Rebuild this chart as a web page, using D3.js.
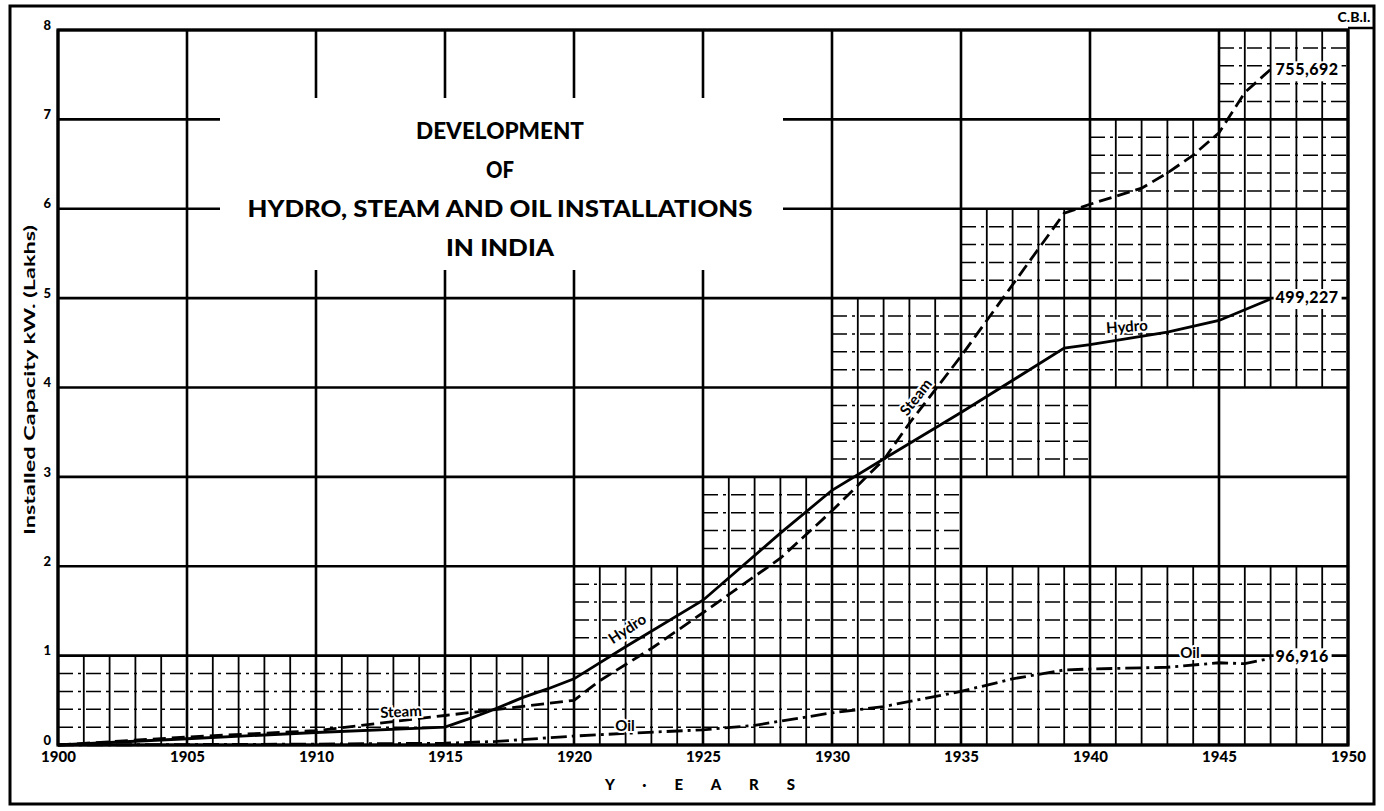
<!DOCTYPE html>
<html><head><meta charset="utf-8">
<script src="https://cdn.jsdelivr.net/npm/d3@7"></script>
<style>
html,body{margin:0;padding:0;background:#fff;}
svg{display:block;font-family:Lato,"DejaVu Sans",sans-serif;}
</style></head>
<body><svg id="c" width="1384" height="811"></svg>
<script>
// ---- data ----
const titleLines = ["DEVELOPMENT","OF","HYDRO, STEAM AND OIL INSTALLATIONS","IN INDIA"];
const xTicks = [1900,1905,1910,1915,1920,1925,1930,1935,1940,1945,1950];
const yTicks = [0,1,2,3,4,5,6,7,8];
const hydroYears  = [1900,1905,1910,1915,1916,1917,1918,1919,1920,1922,1925,1928,1930,1932,1935,1939,1940,1943,1945,1947];
const hydroValues = [0,0.07,0.14,0.2,0.3,0.41,0.53,0.63,0.74,1.1,1.62,2.37,2.85,3.2,3.72,4.44,4.48,4.62,4.75,4.99];
const steamYears  = [1900,1905,1910,1915,1920,1921,1923,1925,1928,1930,1932,1933,1935,1939,1940,1942,1943,1944,1945,1946,1947];
const steamValues = [0,0.09,0.16,0.33,0.5,0.72,1.08,1.48,2.09,2.62,3.19,3.6,4.35,5.95,6.05,6.23,6.4,6.6,6.85,7.3,7.56];
const oilYears  = [1900,1910,1915,1917,1920,1922,1925,1927,1930,1932,1935,1937,1939,1940,1943,1945,1946,1947];
const oilValues = [0,0.01,0.02,0.04,0.1,0.13,0.17,0.22,0.36,0.43,0.6,0.74,0.84,0.85,0.87,0.92,0.91,0.97];
const endLabels = ["755,692","499,227","96,916"];
// fine-ruled grid areas: [yearFrom, yearTo, lakhFrom, lakhTo]
const fineAreas = [[1900,1920,0,1],[1920,1925,0,2],[1925,1930,0,3],[1930,1935,0,5],
  [1935,1940,0,2],[1935,1940,3,6],[1940,1945,0,2],[1940,1945,4,7],[1945,1950,0,2],[1945,1950,4,8]];

const svg = d3.select("#c");
const x = d3.scaleLinear().domain([1900,1950]).range([58,1348]);
const y = d3.scaleLinear().domain([0,8]).range([745,30]);

// outer frame
svg.append("rect").attr("x",10).attr("y",6).attr("width",1364).attr("height",798)
  .attr("fill","none").attr("stroke","#000").attr("stroke-width",3);
svg.append("line").attr("x1",x(1950)).attr("x2",1374).attr("y1",28).attr("y2",28)
  .attr("stroke","#000").attr("stroke-width",2.5);
svg.append("text").attr("x",1354).attr("y",22).attr("text-anchor","middle")
  .attr("font-weight",900).attr("font-size",14).text("C.B.I.");

// fine grid
const fine = svg.append("g");
fineAreas.forEach(([a,b,lo,hi])=>{
  for(let yr=a+1; yr<b; yr++){
    if(yr%5===0) continue;
    fine.append("line").attr("x1",x(yr)).attr("x2",x(yr)).attr("y1",y(lo)).attr("y2",y(hi))
      .attr("stroke","#000").attr("stroke-width",1.8);
  }
  for(let k=Math.round(lo*5)+1; k<Math.round(hi*5); k++){
    if(k%5===0) continue;
    const v = k/5;
    fine.append("line").attr("x1",x(a)).attr("x2",x(b)).attr("y1",y(v)).attr("y2",y(v))
      .attr("stroke","#000").attr("stroke-width",1.5).attr("stroke-dasharray","15,5,3,5");
  }
});

// major grid
const major = svg.append("g");
xTicks.forEach(t=>{
  major.append("line").attr("x1",x(t)).attr("x2",x(t)).attr("y1",y(0)).attr("y2",y(8))
    .attr("stroke","#000").attr("stroke-width",2.6);
});
yTicks.forEach(t=>{
  major.append("line").attr("x1",x(1900)).attr("x2",x(1950)).attr("y1",y(t)).attr("y2",y(t))
    .attr("stroke","#000").attr("stroke-width",2.6);
});
svg.append("rect").attr("x",x(1900)).attr("y",y(8)).attr("width",x(1950)-x(1900)).attr("height",y(0)-y(8))
  .attr("fill","none").attr("stroke","#000").attr("stroke-width",3.2);

// title block (masks grid)
svg.append("rect").attr("x",220).attr("y",98).attr("width",563).attr("height",172).attr("fill","#fff");
const tY = [133,172,211,250];
const tW = [168,28,505,108];
titleLines.forEach((s,i)=>{
  svg.append("text").attr("x",500).attr("y",tY[i]).attr("text-anchor","middle")
    .attr("dominant-baseline","middle").attr("font-weight",900).attr("font-size",22)
    .attr("textLength",tW[i]).attr("lengthAdjust","spacingAndGlyphs").text(s);
});

// axes
const xa = svg.append("g").attr("transform",`translate(0,${y(0)})`)
  .call(d3.axisBottom(x).tickValues(xTicks).tickFormat(d3.format("d")).tickSize(0).tickPadding(6));
xa.select(".domain").remove();
xa.selectAll("text").attr("font-size",15).attr("font-weight",900).attr("font-family","Lato,sans-serif");
const ya = svg.append("g").attr("transform",`translate(${x(1900)},0)`)
  .call(d3.axisLeft(y).tickValues(yTicks).tickFormat(d3.format("d")).tickSize(0).tickPadding(7));
ya.select(".domain").remove();
ya.selectAll("text").attr("font-size",13).attr("font-weight",900).attr("font-family","Lato,sans-serif")
  .attr("transform","translate(0,-5)");

svg.append("text").attr("transform","translate(31,380) rotate(-90)").attr("text-anchor","middle")
  .attr("dominant-baseline","middle").attr("font-weight",700).attr("font-size",15)
  .attr("textLength",310).attr("lengthAdjust","spacingAndGlyphs")
  .text("Installed  Capacity  kW.  (Lakhs)");
svg.append("text").attr("x",700).attr("y",790).attr("text-anchor","middle")
  .attr("font-weight",900).attr("font-size",15).attr("textLength",190).attr("lengthAdjust","spacing")
  .text("Y · E A R S");

// series
const line = d3.line().x(d=>x(d[0])).y(d=>y(d[1]));
const series = [
  {ys:hydroYears, vs:hydroValues, dash:null},
  {ys:steamYears, vs:steamValues, dash:"13,6"},
  {ys:oilYears, vs:oilValues, dash:"16,5,3,5"}
];
series.forEach(s=>{
  svg.append("path").datum(s.ys.map((yr,i)=>[yr,s.vs[i]])).attr("d",line)
    .attr("fill","none").attr("stroke","#000").attr("stroke-width",2.8)
    .attr("stroke-dasharray",s.dash);
});

// end value labels
const endVals = [steamValues[steamValues.length-1], hydroValues[hydroValues.length-1], oilValues[oilValues.length-1]];
endLabels.forEach((t,i)=>{
  const lx = x(1947)+3, ly = y(endVals[i]) + (i===0?2:0);
  svg.append("rect").attr("x",lx).attr("y",ly-10).attr("width",i===2?58:68).attr("height",20).attr("fill","#fff");
  svg.append("text").attr("x",lx+2).attr("y",ly).attr("dominant-baseline","middle")
    .attr("font-weight",900).attr("font-size",16).attr("letter-spacing",0.5).text(t);
});

// series labels
function lab(t,cx,cy,rot){
  svg.append("text").attr("transform",`translate(${cx},${cy}) rotate(${rot})`).attr("text-anchor","middle")
    .attr("dominant-baseline","middle").attr("font-weight",700).attr("font-size",15)
    .attr("stroke","#fff").attr("stroke-width",4).attr("paint-order","stroke").text(t);
}
lab("Hydro",628,630,-33);
lab("Steam",917,398,-52);
lab("Steam",401,713,-3);
lab("Oil",625,727,0);
lab("Oil",1190,654,0);
lab("Hydro",1127,328,-4);
</script></body></html>
